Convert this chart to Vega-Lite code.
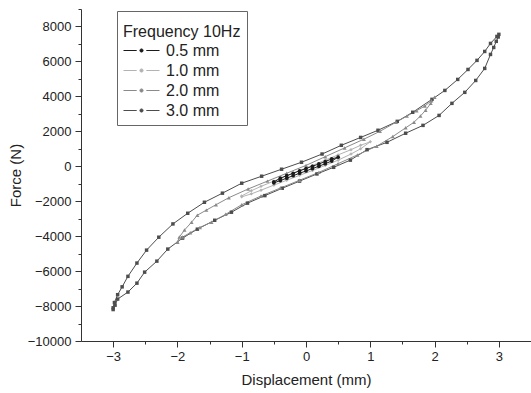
{
"$schema": "https://vega.github.io/schema/vega-lite/v6.json",
"width": 450, "height": 332,
"autosize": "none",
"padding": {"left": 81, "top": 9, "right": 0, "bottom": 52},
"background": "white",
"config": {
  "view": {"stroke": null},
  "font": "Liberation Sans",
  "axis": {"grid": false, "domainColor": "#333", "tickColor": "#333", "labelColor": "#222", "titleColor": "#222",
           "labelFont": "Liberation Sans", "titleFont": "Liberation Sans", "labelFontSize": 13, "titleFontSize": 15, "titleFontWeight": "normal"}
},
"data": {"values": [
{"s":"3.0 mm","o":1,"x":-3.00,"y":-8200},{"s":"3.0 mm","o":2,"x":-2.97,"y":-7950},{"s":"3.0 mm","o":3,"x":-2.93,"y":-7600},{"s":"3.0 mm","o":4,"x":-2.77,"y":-7200},{"s":"3.0 mm","o":5,"x":-2.63,"y":-6690},{"s":"3.0 mm","o":6,"x":-2.51,"y":-6060},{"s":"3.0 mm","o":7,"x":-2.32,"y":-5430},{"s":"3.0 mm","o":8,"x":-2.15,"y":-4740},{"s":"3.0 mm","o":9,"x":-1.92,"y":-4110},{"s":"3.0 mm","o":10,"x":-1.69,"y":-3600},{"s":"3.0 mm","o":11,"x":-1.42,"y":-3090},{"s":"3.0 mm","o":12,"x":-1.16,"y":-2630},{"s":"3.0 mm","o":13,"x":-0.91,"y":-2110},{"s":"3.0 mm","o":14,"x":-0.64,"y":-1680},{"s":"3.0 mm","o":15,"x":-0.37,"y":-1260},{"s":"3.0 mm","o":16,"x":-0.10,"y":-850},{"s":"3.0 mm","o":17,"x":0.17,"y":-440},{"s":"3.0 mm","o":18,"x":0.43,"y":-60},{"s":"3.0 mm","o":19,"x":0.69,"y":350},{"s":"3.0 mm","o":20,"x":0.95,"y":950},{"s":"3.0 mm","o":21,"x":1.26,"y":1370},{"s":"3.0 mm","o":22,"x":1.55,"y":1890},{"s":"3.0 mm","o":23,"x":1.82,"y":2340},{"s":"3.0 mm","o":24,"x":2.07,"y":2910},{"s":"3.0 mm","o":25,"x":2.27,"y":3600},{"s":"3.0 mm","o":26,"x":2.47,"y":4230},{"s":"3.0 mm","o":27,"x":2.64,"y":4910},{"s":"3.0 mm","o":28,"x":2.78,"y":5600},{"s":"3.0 mm","o":29,"x":2.87,"y":6400},{"s":"3.0 mm","o":30,"x":2.92,"y":6800},{"s":"3.0 mm","o":31,"x":2.96,"y":7150},{"s":"3.0 mm","o":32,"x":2.99,"y":7400},{"s":"3.0 mm","o":33,"x":3.00,"y":7550},
{"s":"3.0 mm","o":34,"x":2.97,"y":7430},{"s":"3.0 mm","o":35,"x":2.87,"y":7030},{"s":"3.0 mm","o":36,"x":2.78,"y":6570},{"s":"3.0 mm","o":37,"x":2.66,"y":6060},{"s":"3.0 mm","o":38,"x":2.52,"y":5540},{"s":"3.0 mm","o":39,"x":2.36,"y":4970},{"s":"3.0 mm","o":40,"x":2.16,"y":4340},{"s":"3.0 mm","o":41,"x":1.96,"y":3830},{"s":"3.0 mm","o":42,"x":1.66,"y":3090},{"s":"3.0 mm","o":43,"x":1.42,"y":2570},{"s":"3.0 mm","o":44,"x":1.12,"y":2060},{"s":"3.0 mm","o":45,"x":0.85,"y":1650},{"s":"3.0 mm","o":46,"x":0.55,"y":1200},{"s":"3.0 mm","o":47,"x":0.25,"y":700},{"s":"3.0 mm","o":48,"x":-0.07,"y":230},{"s":"3.0 mm","o":49,"x":-0.38,"y":-170},{"s":"3.0 mm","o":50,"x":-0.69,"y":-570},{"s":"3.0 mm","o":51,"x":-1.00,"y":-970},{"s":"3.0 mm","o":52,"x":-1.30,"y":-1540},{"s":"3.0 mm","o":53,"x":-1.58,"y":-2060},{"s":"3.0 mm","o":54,"x":-1.84,"y":-2690},{"s":"3.0 mm","o":55,"x":-2.07,"y":-3300},{"s":"3.0 mm","o":56,"x":-2.29,"y":-4060},{"s":"3.0 mm","o":57,"x":-2.48,"y":-4800},{"s":"3.0 mm","o":58,"x":-2.63,"y":-5540},{"s":"3.0 mm","o":59,"x":-2.77,"y":-6300},{"s":"3.0 mm","o":60,"x":-2.86,"y":-6900},{"s":"3.0 mm","o":61,"x":-2.93,"y":-7350},{"s":"3.0 mm","o":62,"x":-2.98,"y":-7800},{"s":"3.0 mm","o":63,"x":-3.00,"y":-8100},
{"s":"2.0 mm","o":1,"x":-2.00,"y":-4350},{"s":"2.0 mm","o":2,"x":-1.92,"y":-4050},{"s":"2.0 mm","o":3,"x":-1.80,"y":-3800},{"s":"2.0 mm","o":4,"x":-1.65,"y":-3500},{"s":"2.0 mm","o":5,"x":-1.47,"y":-3200},{"s":"2.0 mm","o":6,"x":-1.25,"y":-2750},{"s":"2.0 mm","o":7,"x":-1.00,"y":-2200},{"s":"2.0 mm","o":8,"x":-0.70,"y":-1700},{"s":"2.0 mm","o":9,"x":-0.40,"y":-1250},{"s":"2.0 mm","o":10,"x":-0.10,"y":-800},{"s":"2.0 mm","o":11,"x":0.20,"y":-350},{"s":"2.0 mm","o":12,"x":0.50,"y":150},{"s":"2.0 mm","o":13,"x":0.80,"y":650},{"s":"2.0 mm","o":14,"x":1.10,"y":1150},{"s":"2.0 mm","o":15,"x":1.35,"y":1700},{"s":"2.0 mm","o":16,"x":1.55,"y":2200},{"s":"2.0 mm","o":17,"x":1.68,"y":2520},{"s":"2.0 mm","o":18,"x":1.78,"y":2880},{"s":"2.0 mm","o":19,"x":1.86,"y":3200},{"s":"2.0 mm","o":20,"x":1.94,"y":3600},{"s":"2.0 mm","o":21,"x":2.00,"y":3950},
{"s":"2.0 mm","o":22,"x":1.95,"y":3750},{"s":"2.0 mm","o":23,"x":1.85,"y":3450},{"s":"2.0 mm","o":24,"x":1.72,"y":3180},{"s":"2.0 mm","o":25,"x":1.57,"y":2870},{"s":"2.0 mm","o":26,"x":1.40,"y":2520},{"s":"2.0 mm","o":27,"x":1.15,"y":2000},{"s":"2.0 mm","o":28,"x":0.90,"y":1550},{"s":"2.0 mm","o":29,"x":0.60,"y":1050},{"s":"2.0 mm","o":30,"x":0.30,"y":550},{"s":"2.0 mm","o":31,"x":0.00,"y":50},{"s":"2.0 mm","o":32,"x":-0.30,"y":-400},{"s":"2.0 mm","o":33,"x":-0.60,"y":-850},{"s":"2.0 mm","o":34,"x":-0.90,"y":-1300},{"s":"2.0 mm","o":35,"x":-1.20,"y":-1800},{"s":"2.0 mm","o":36,"x":-1.40,"y":-2200},{"s":"2.0 mm","o":37,"x":-1.55,"y":-2510},{"s":"2.0 mm","o":38,"x":-1.69,"y":-2800},{"s":"2.0 mm","o":39,"x":-1.78,"y":-3200},{"s":"2.0 mm","o":40,"x":-1.89,"y":-3650},{"s":"2.0 mm","o":41,"x":-1.97,"y":-4050},{"s":"2.0 mm","o":42,"x":-2.00,"y":-4350},
{"s":"1.0 mm","o":1,"x":-1.00,"y":-1750},{"s":"1.0 mm","o":2,"x":-0.85,"y":-1580},{"s":"1.0 mm","o":3,"x":-0.70,"y":-1370},{"s":"1.0 mm","o":4,"x":-0.50,"y":-1080},{"s":"1.0 mm","o":5,"x":-0.30,"y":-800},{"s":"1.0 mm","o":6,"x":-0.10,"y":-520},{"s":"1.0 mm","o":7,"x":0.10,"y":-240},{"s":"1.0 mm","o":8,"x":0.30,"y":50},{"s":"1.0 mm","o":9,"x":0.50,"y":350},{"s":"1.0 mm","o":10,"x":0.70,"y":700},{"s":"1.0 mm","o":11,"x":0.85,"y":1000},{"s":"1.0 mm","o":12,"x":1.00,"y":1400},
{"s":"1.0 mm","o":13,"x":0.85,"y":1200},{"s":"1.0 mm","o":14,"x":0.70,"y":950},{"s":"1.0 mm","o":15,"x":0.50,"y":650},{"s":"1.0 mm","o":16,"x":0.30,"y":350},{"s":"1.0 mm","o":17,"x":0.10,"y":50},{"s":"1.0 mm","o":18,"x":-0.10,"y":-250},{"s":"1.0 mm","o":19,"x":-0.30,"y":-550},{"s":"1.0 mm","o":20,"x":-0.50,"y":-850},{"s":"1.0 mm","o":21,"x":-0.70,"y":-1150},{"s":"1.0 mm","o":22,"x":-0.85,"y":-1400},{"s":"1.0 mm","o":23,"x":-1.00,"y":-1700},
{"s":"0.5 mm","o":1,"x":-0.50,"y":-950},{"s":"0.5 mm","o":2,"x":-0.40,"y":-820},{"s":"0.5 mm","o":3,"x":-0.30,"y":-680},{"s":"0.5 mm","o":4,"x":-0.20,"y":-540},{"s":"0.5 mm","o":5,"x":-0.10,"y":-400},{"s":"0.5 mm","o":6,"x":0.00,"y":-270},{"s":"0.5 mm","o":7,"x":0.10,"y":-130},{"s":"0.5 mm","o":8,"x":0.20,"y":0},{"s":"0.5 mm","o":9,"x":0.30,"y":150},{"s":"0.5 mm","o":10,"x":0.40,"y":300},{"s":"0.5 mm","o":11,"x":0.50,"y":520},
{"s":"0.5 mm","o":12,"x":0.40,"y":420},{"s":"0.5 mm","o":13,"x":0.30,"y":270},{"s":"0.5 mm","o":14,"x":0.20,"y":130},{"s":"0.5 mm","o":15,"x":0.10,"y":0},{"s":"0.5 mm","o":16,"x":0.00,"y":-130},{"s":"0.5 mm","o":17,"x":-0.10,"y":-260},{"s":"0.5 mm","o":18,"x":-0.20,"y":-400},{"s":"0.5 mm","o":19,"x":-0.30,"y":-540},{"s":"0.5 mm","o":20,"x":-0.40,"y":-680},{"s":"0.5 mm","o":21,"x":-0.50,"y":-900}
]},
"resolve": {"axis": {"x": "independent", "y": "independent"}},
"layer": [
  {
    "mark": {"type": "line", "strokeWidth": 1},
    "encoding": {
      "x": {"field": "x", "type": "quantitative", "scale": {"domain": [-3.5, 3.5], "nice": false, "zero": false},
            "axis": {"values": [-3,-2,-1,0,1,2,3], "format": "d", "tickSize": 6, "labelPadding": 3, "title": "Displacement (mm)", "titlePadding": 9}},
      "y": {"field": "y", "type": "quantitative", "scale": {"domain": [-10000, 9000], "nice": false, "zero": false},
            "axis": {"values": [-10000,-8000,-6000,-4000,-2000,0,2000,4000,6000,8000], "format": "d", "tickSize": 6, "labelPadding": 4, "title": "Force (N)", "titlePadding": 4}},
      "order": {"field": "o", "type": "quantitative"},
      "color": {"field": "s", "type": "nominal",
        "scale": {"domain": ["0.5 mm","1.0 mm","2.0 mm","3.0 mm"], "range": ["#1a1a1a","#b3b3b3","#8a8a8a","#4d4d4d"]},
        "legend": {"title": "Frequency 10Hz", "orient": "none", "legendX": 36, "legendY": 2,
          "padding": 6, "strokeColor": "#666", "fillColor": "white",
          "titleFontSize": 16, "titleFontWeight": "normal", "titleColor": "#222", "titlePadding": 9, "titleFont": "Liberation Sans",
          "labelFontSize": 16, "labelColor": "#222", "labelFont": "Liberation Sans", "labelOffset": 26, "rowPadding": 3,
          "symbolSize": 256,
          "symbolType": "M-1,0H0.65M1.85,0H3.5M1.05,0A0.2,0.2,0,1,0,1.45,0A0.2,0.2,0,1,0,1.05,0Z",
          "encode": {
            "title": {"update": {"dy": {"value": 7}}},
            "symbols": {"update": {
            "stroke": {"scale": "color", "field": "value"}, "fill": {"scale": "color", "field": "value"}, "strokeWidth": {"value": 1}}}}}
      }
    }
  },
  {
    "transform": [{"filter": "datum.s === '3.0 mm'"}],
    "mark": {"type": "point", "filled": true, "size": 12, "shape": "square", "opacity": 1},
    "encoding": {
      "x": {"field": "x", "type": "quantitative",
            "axis": {"orient": "bottom", "values": [-2.5,-1.5,-0.5,0.5,1.5,2.5,3.5], "labels": false, "domain": false, "tickSize": 3, "title": null}},
      "y": {"field": "y", "type": "quantitative",
            "axis": {"orient": "left", "values": [-9000,-7000,-5000,-3000,-1000,1000,3000,5000,7000,9000], "labels": false, "domain": false, "tickSize": 3, "title": null}},
      "color": {"field": "s", "type": "nominal", "legend": null}
    }
  },
  {
    "transform": [{"filter": "datum.s === '2.0 mm'"}],
    "mark": {"type": "point", "filled": true, "size": 16, "shape": "triangle-up", "opacity": 1},
    "encoding": {
      "x": {"field": "x", "type": "quantitative", "axis": null},
      "y": {"field": "y", "type": "quantitative", "axis": null},
      "color": {"field": "s", "type": "nominal", "legend": null}
    }
  },
  {
    "transform": [{"filter": "datum.s === '1.0 mm'"}],
    "mark": {"type": "point", "filled": true, "size": 12, "shape": "diamond", "opacity": 1},
    "encoding": {
      "x": {"field": "x", "type": "quantitative", "axis": null},
      "y": {"field": "y", "type": "quantitative", "axis": null},
      "color": {"field": "s", "type": "nominal", "legend": null}
    }
  },
  {
    "transform": [{"filter": "datum.s === '0.5 mm'"}],
    "mark": {"type": "point", "filled": true, "size": 14, "shape": "circle", "opacity": 1},
    "encoding": {
      "x": {"field": "x", "type": "quantitative", "axis": null},
      "y": {"field": "y", "type": "quantitative", "axis": null},
      "color": {"field": "s", "type": "nominal", "legend": null}
    }
  }
]
}
